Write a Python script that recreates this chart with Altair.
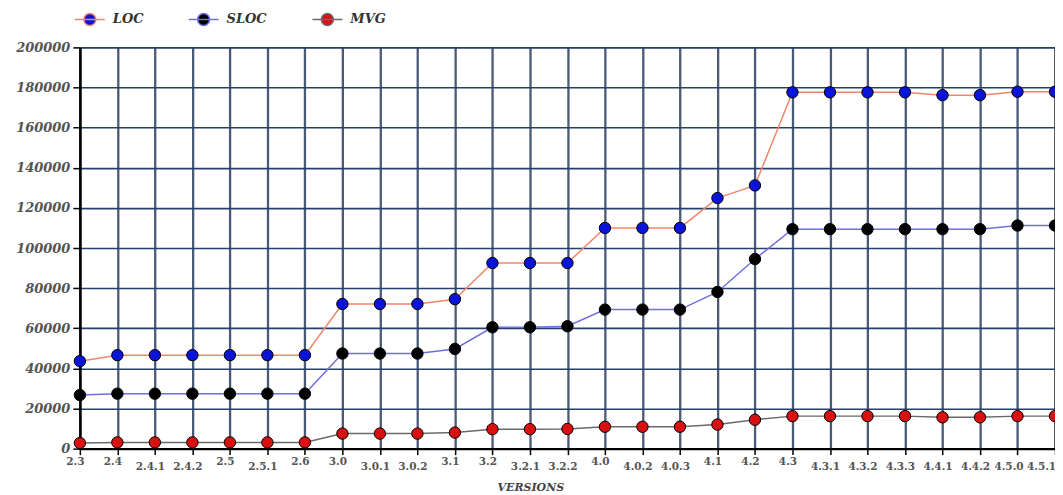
import altair as alt
import pandas as pd

versions = ["2.3", "2.4", "2.4.1", "2.4.2", "2.5", "2.5.1", "2.6", "3.0", "3.0.1", "3.0.2",
            "3.1", "3.2", "3.2.1", "3.2.2", "4.0", "4.0.2", "4.0.3", "4.1", "4.2", "4.3",
            "4.3.1", "4.3.2", "4.3.3", "4.4.1", "4.4.2", "4.5.0", "4.5.1"]
loc = [43600, 46600, 46600, 46600, 46600, 46600, 46600, 72100, 72100, 72100,
       74500, 92500, 92500, 92500, 110000, 110000, 110000, 124900, 131200, 177600,
       177600, 177600, 177600, 176200, 176200, 177900, 177900]
sloc = [26700, 27400, 27400, 27400, 27400, 27400, 27400, 47400, 47400, 47400,
        49700, 60500, 60500, 61000, 69300, 69300, 69300, 78100, 94500, 109400,
        109400, 109400, 109400, 109400, 109400, 111200, 111200]
mvg = [2800, 3100, 3100, 3100, 3100, 3100, 3100, 7500, 7500, 7500,
       8000, 9700, 9700, 9800, 10900, 10900, 10900, 12000, 14400, 16200,
       16200, 16200, 16200, 15600, 15600, 16200, 16200]
series = ["LOC", "SLOC", "MVG"]
point_colors = ["#0a14d8", "#000000", "#d81010"]
line_colors = ["#f2866a", "#6f6fe0", "#6a6a6a"]

rows = []
for name, vals in zip(series, [loc, sloc, mvg]):
    for v, val in zip(versions, vals):
        rows.append({"version": v, "series": name, "value": val})
df = pd.DataFrame(rows)

serif = "DejaVu Serif"
last = versions[-1]
second_last = versions[-2]

x = alt.X("version:N", sort=versions, title="VERSIONS",
          scale=alt.Scale(type="point", padding=0),
          axis=alt.Axis(labelAngle=0, labelFont=serif, labelFontWeight="bold",
                        labelFontSize=10.5, labelColor="#555555",
                        labelPadding={"condition": {"test": "length(datum.value) > 3", "value": 7}, "value": 2},
                        labelOffset={"condition": [
                            {"test": f"datum.value == '{last}'", "value": -14},
                            {"test": f"datum.value == '{second_last}'", "value": -9}], "value": -5},
                        tickColor="#000000", tickSize=6, tickWidth=1.5,
                        domainColor="#000000", domainWidth=2.5,
                        grid=True,
                        gridColor={"condition": {"test": f"datum.value == '{last}'", "value": "#000000"}, "value": "#4a5a76"},
                        gridWidth=2.3,
                        titleFont=serif, titleFontStyle="italic", titleFontWeight="bold",
                        titleFontSize=11, titleColor="#444444", titleBaseline="bottom",
                        titleAnchor="start", titleAlign="left", titleX=418, titleY=44))
y = alt.Y("value:Q", title=None,
          scale=alt.Scale(domain=[0, 200000], nice=False),
          axis=alt.Axis(values=list(range(0, 200001, 20000)), format="d",
                        labelFont=serif, labelFontWeight="bold", labelFontStyle="italic",
                        labelFontSize=13, labelColor="#555555", labelPadding=3,
                        tickColor="#000000", tickSize=7, tickWidth=1.5,
                        domainColor="#000000", domainWidth=2.5,
                        gridColor="#25406a", gridWidth=1.6))

legend = alt.Legend(title=None, orient="none", legendX=-6, legendY=-44, direction="horizontal",
                    symbolType="M-1,0L1,0M-0.4,0A0.4,0.4,0,1,1,0.4,0A0.4,0.4,0,1,1,-0.4,0Z",
                    symbolSize=900, symbolStrokeWidth=1.5, labelFont=serif,
                    labelFontStyle="italic", labelFontWeight="bold", labelFontSize=13,
                    labelColor="#333333", columnPadding=42, labelOffset=7, symbolOpacity=1)

lines = alt.Chart(df).mark_line(strokeWidth=1.5).encode(
    x=x, y=y,
    stroke=alt.Stroke("series:N", sort=series,
                      scale=alt.Scale(domain=series, range=line_colors), legend=legend),
)
points = alt.Chart(df).mark_point(filled=True, size=130, stroke="#000000", strokeWidth=1, opacity=1).encode(
    x=x, y=y,
    fill=alt.Fill("series:N", sort=series,
                  scale=alt.Scale(domain=series, range=point_colors), legend=legend),
)

chart = alt.layer(lines, points).properties(
    width=977, height=402,
    autosize=alt.AutoSizeParams(type="none"),
    padding={"left": 72, "top": 39, "right": 0, "bottom": 48},
).configure_view(stroke=None).configure(background="white")

chart.save("out.html", embed_options={"renderer": "svg", "actions": False})
